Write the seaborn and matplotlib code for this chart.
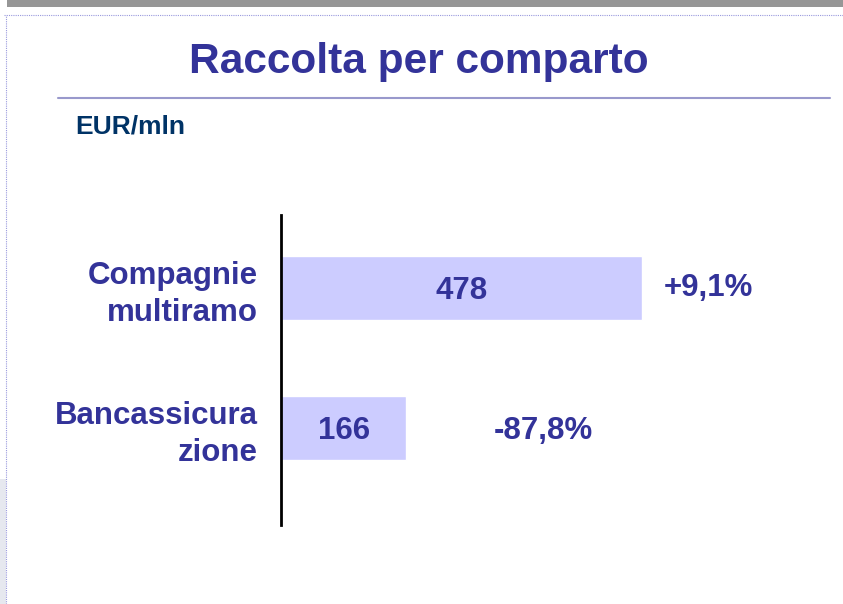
import matplotlib
matplotlib.use("Agg")
import matplotlib.pyplot as plt
import pandas as pd
import seaborn as sns
from matplotlib.lines import Line2D
from matplotlib.patches import Rectangle

# dati
categories = ["Compagnie\nmultiramo", "Bancassicura\nzione"]
values = [478, 166]
changes = ["+9,1%", "-87,8%"]

TITLE = "Raccolta per comparto"
UNIT = "EUR/mln"

BLUE = "#333399"
NAVY = "#003366"
BAR = "#CCCCFF"

# distanza (pt) dell'etichetta di variazione dalla fine della barra
change_offsets = [16, 63]

sns.set_theme(style="white")
plt.rcParams["font.family"] = ["Liberation Sans", "DejaVu Sans"]

fig = plt.figure(figsize=(8.43, 6.04), dpi=100)
fig.patch.set_facecolor("white")

# cornice della slide
fig.add_artist(Rectangle((7 / 843, 1 - 7 / 604), 1, 7 / 604,
                         transform=fig.transFigure, color="#969696", lw=0))
fig.add_artist(Line2D([4 / 843, 1], [1 - 15 / 604] * 2, transform=fig.transFigure,
                      color="#9999DD", lw=0.8, ls=(0, (1, 1))))
fig.add_artist(Line2D([6 / 843] * 2, [0, 1 - 15 / 604], transform=fig.transFigure,
                      color="#9999DD", lw=0.8, ls=(0, (1, 1))))
fig.add_artist(Rectangle((0, 0), 6 / 843, 125 / 604, transform=fig.transFigure,
                         color="#E6E8EF", lw=0))

fig.text(419 / 843, 1 - 62 / 604, TITLE, ha="center", va="center",
         fontsize=30.5, fontweight="bold", color=BLUE)
fig.add_artist(Line2D([58 / 843, 830 / 843], [1 - 98 / 604] * 2,
                      transform=fig.transFigure, color="#9999CC", lw=1.5))
fig.text(75 / 843, 1 - 127 / 604, UNIT, ha="left", va="center",
         fontsize=19, fontweight="bold", color=NAVY)

ax = fig.add_axes([281 / 843, 79 / 604, 528.5 / 843, 310 / 604])
df = pd.DataFrame({"comparto": categories, "valore": values})
sns.barplot(data=df, x="valore", y="comparto", orient="h", color=BAR,
            width=0.457, saturation=1, ax=ax)

ax.set_xlim(0, 700)
ax.set_ylim(1.693, -0.521)
ax.set_xlabel("")
ax.set_ylabel("")
ax.set_xticks([])
ax.set_facecolor("none")
for side in ["top", "right", "bottom"]:
    ax.spines[side].set_visible(False)
ax.spines["left"].set_color("black")
ax.spines["left"].set_linewidth(2)
ax.tick_params(axis="y", length=0, pad=17)
for lab in ax.get_yticklabels():
    lab.set_fontsize(22.5)
    lab.set_fontweight("bold")
    lab.set_color(BLUE)
    lab.set_linespacing(1.3)

for i, (v, c) in enumerate(zip(values, changes)):
    ax.annotate(str(v), xy=(v / 2, i), xytext=(0, -2.5), textcoords="offset points",
                ha="center", va="center", fontsize=22.5, fontweight="bold", color=BLUE)
    ax.annotate(c, xy=(v, i), xytext=(change_offsets[i], -2 * i), textcoords="offset points",
                ha="left", va="center", fontsize=22.5, fontweight="bold", color=BLUE)

fig.savefig("out.png", dpi=100)
